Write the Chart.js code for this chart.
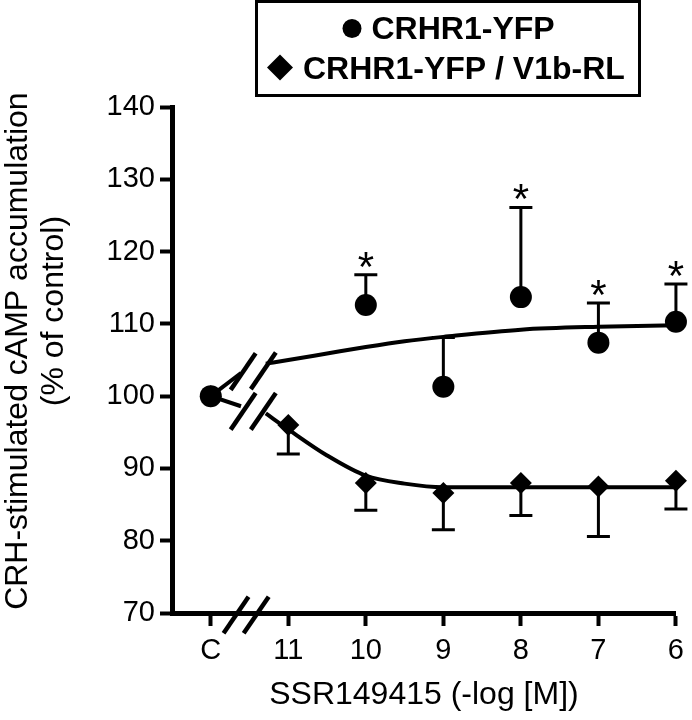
<!DOCTYPE html>
<html>
<head>
<meta charset="utf-8">
<script src="https://cdn.jsdelivr.net/npm/chart.js@4.4.1/dist/chart.umd.min.js"></script>
<style>
html,body{margin:0;padding:0;background:#ffffff;}
canvas{display:block;}
</style>
</head>
<body>
<canvas id="chart" width="692" height="720"></canvas>
<script>
// ---------- data ----------
const categories = ['C', '11', '10', '9', '8', '7', '6'];

const yfpLabel = 'CRHR1-YFP';
const yfpMean = [100, null, 112.6, 101.3, 113.7, 107.4, 110.3];
const yfpErrTop = [null, null, 116.8, 108.1, 126.1, 112.9, 115.5];
const yfpSignificant = [false, false, true, false, true, true, true];

const v1bLabel = 'CRHR1-YFP / V1b-RL';
const v1bMean = [100, 96.0, 88.0, 86.6, 88.0, 87.5, 88.3];
const v1bErrBottom = [null, 92.0, 84.2, 81.5, 83.5, 80.6, 84.4];

// fitted curves
const preBreakX = [0, 0.39];
const yfpPreBreakY = [100, 103.2];
const v1bPreBreakY = [100, 98.6];
const fitX = [0.71, 1, 1.5, 2, 2.5, 3, 4, 5, 6];
const yfpFitY = [104.5, 105.0, 105.9, 106.8, 107.6, 108.2, 109.2, 109.6, 109.8];
const v1bFitY = [97.6, 95.4, 91.8, 89.0, 87.9, 87.4, 87.4, 87.4, 87.4];

const yTicksMin = 70, yTicksMax = 140, yTickStep = 10;
const xTitle = 'SSR149415 (-log [M])';
const yTitle = ['  CRH-stimulated cAMP accumulation', '           (% of control)'];

// ---------- helpers ----------
const FONT = "'Liberation Sans', Arial, Helvetica, sans-serif";
const toPoints = (xs, ys) => xs.map((x, i) => ({ x: x, y: ys[i] }));
const indexPoints = (ys) => ys.map((y, i) => ({ x: i, y: y }));

// error bars + significance stars
const errorBarPlugin = {
  id: 'errorBars',
  afterDatasetsDraw(chart) {
    const { ctx } = chart;
    const xs = chart.scales.x, ys = chart.scales.y;
    chart.data.datasets.forEach((ds) => {
      if (!ds.errorEnds) return;
      ctx.save();
      ctx.strokeStyle = '#000';
      ctx.fillStyle = '#000';
      ctx.lineWidth = 3;
      ds.data.forEach((p, i) => {
        const e = ds.errorEnds[i];
        if (p.y == null || e == null) return;
        const px = xs.getPixelForValue(p.x);
        const py = ys.getPixelForValue(p.y);
        const pe = ys.getPixelForValue(e);
        ctx.beginPath();
        ctx.moveTo(px, py);
        ctx.lineTo(px, pe);
        ctx.moveTo(px - 11.5, pe);
        ctx.lineTo(px + 11.5, pe);
        ctx.stroke();
        if (ds.significant && ds.significant[i]) {
          ctx.font = '42px ' + FONT;
          ctx.textAlign = 'center';
          ctx.textBaseline = 'alphabetic';
          ctx.fillText('*', px, pe + 6);
        }
      });
      ctx.restore();
    });
  }
};

// axis break marks (double slashes)
const breakPlugin = {
  id: 'breakMarks',
  afterDraw(chart, args, opts) {
    const { ctx } = chart;
    const xs = chart.scales.x, ys = chart.scales.y;
    ctx.save();
    ctx.strokeStyle = '#000';
    ctx.lineWidth = 4.5;
    ctx.lineCap = 'butt';
    opts.marks.forEach((m) => {
      const cx = xs.getPixelForValue(m.x);
      const cy = m.y == null ? chart.chartArea.bottom + 2 : ys.getPixelForValue(m.y);
      ctx.beginPath();
      ctx.moveTo(cx - opts.dx, cy + opts.dy);
      ctx.lineTo(cx + opts.dx, cy - opts.dy);
      ctx.stroke();
    });
    ctx.restore();
  }
};

// boxed legend
const boxedLegendPlugin = {
  id: 'boxedLegend',
  afterDraw(chart, args, opts) {
    const { ctx } = chart;
    ctx.save();
    ctx.strokeStyle = '#000';
    ctx.lineWidth = 3;
    const b = opts.box;
    ctx.strokeRect(b.left, b.top, b.width, b.height);
    ctx.fillStyle = '#000';
    ctx.font = 'bold 32px ' + FONT;
    ctx.textAlign = 'left';
    ctx.textBaseline = 'alphabetic';
    opts.items.forEach((it) => {
      const ds = chart.data.datasets[it.datasetIndex];
      ctx.beginPath();
      Chart.helpers.drawPoint(ctx, { pointStyle: ds.pointStyle, radius: it.radius, rotation: 0, borderWidth: 0 }, it.markerX, it.markerY);
      ctx.fillText(ds.label, it.textX, it.baseline);
    });
    ctx.restore();
  }
};

const curveStyle = {
  borderColor: '#000',
  borderWidth: 4,
  pointRadius: 0,
  fill: false,
  cubicInterpolationMode: 'monotone',
  clip: false
};

const chart = new Chart(document.getElementById('chart'), {
  type: 'line',
  data: {
    datasets: [
      Object.assign({ label: 'fit1', data: toPoints(fitX, yfpFitY) }, curveStyle),
      Object.assign({ label: 'fit1pre', data: toPoints(preBreakX, yfpPreBreakY) }, curveStyle, { cubicInterpolationMode: 'default', tension: 0 }),
      Object.assign({ label: 'fit2', data: toPoints(fitX, v1bFitY) }, curveStyle),
      Object.assign({ label: 'fit2pre', data: toPoints(preBreakX, v1bPreBreakY) }, curveStyle, { cubicInterpolationMode: 'default', tension: 0 }),
      {
        label: v1bLabel,
        data: indexPoints(v1bMean),
        errorEnds: v1bErrBottom,
        showLine: false,
        pointStyle: 'rectRot',
        pointRadius: 11,
        pointBackgroundColor: '#000',
        pointBorderColor: '#000',
        pointBorderWidth: 0,
        clip: false
      },
      {
        label: yfpLabel,
        data: indexPoints(yfpMean),
        errorEnds: yfpErrTop,
        significant: yfpSignificant,
        showLine: false,
        pointStyle: 'circle',
        pointRadius: 11,
        pointBackgroundColor: '#000',
        pointBorderColor: '#000',
        pointBorderWidth: 0,
        clip: false
      }
    ]
  },
  options: {
    responsive: false,
    animation: false,
    devicePixelRatio: 1,
    events: [],
    layout: { padding: { top: 107, right: 12, left: 0, bottom: 0 } },
    plugins: {
      legend: { display: false },
      tooltip: { enabled: false },
      breakMarks: {
        dx: 12.5, dy: 18.3,
        marks: [
          { x: 0.418, y: 103.4 }, { x: 0.678, y: 103.5 },
          { x: 0.418, y: 97.9 }, { x: 0.678, y: 97.9 },
          { x: 0.326, y: null }, { x: 0.586, y: null }
        ]
      },
      boxedLegend: {
        box: { left: 256.5, top: 1.5, width: 383, height: 94 },
        items: [
          { datasetIndex: 5, radius: 9.5, markerX: 352, markerY: 28.5, textX: 371.5, baseline: 39 },
          { datasetIndex: 4, radius: 13, markerX: 280, markerY: 67.5, textX: 303, baseline: 79 }
        ]
      }
    },
    scales: {
      x: {
        type: 'linear',
        min: -0.5,
        max: categories.length - 1,
        afterBuildTicks: (s) => { s.ticks = categories.map((c, i) => ({ value: i })); },
        afterFit: (s) => { s.height = 107; },
        ticks: {
          callback: (v) => categories[Math.round(v)],
          color: '#000',
          font: { family: FONT, size: 29 },
          padding: 8,
          maxRotation: 0,
          autoSkip: false
        },
        grid: { drawOnChartArea: false, drawTicks: true, tickLength: 13, tickWidth: 4, tickColor: '#000' },
        border: { display: true, width: 5, color: '#000' },
        title: {
          display: true,
          text: xTitle,
          color: '#000',
          font: { family: FONT, size: 32, lineHeight: 1.2 },
          padding: { top: 0, bottom: 6 }
        }
      },
      y: {
        type: 'linear',
        min: yTicksMin,
        max: yTicksMax,
        afterFit: (s) => { s.width = 172; },
        ticks: {
          stepSize: yTickStep,
          color: '#000',
          font: { family: FONT, size: 29 },
          padding: 5
        },
        grid: { drawOnChartArea: false, drawTicks: true, tickLength: 12, tickWidth: 4, tickColor: '#000' },
        border: { display: true, width: 5, color: '#000' },
        title: {
          display: true,
          text: yTitle,
          color: '#000',
          font: { family: FONT, size: 32, lineHeight: 1.125 },
          padding: { top: 0, bottom: 0 }
        }
      }
    }
  },
  plugins: [errorBarPlugin, breakPlugin, boxedLegendPlugin]
});
</script>
</body>
</html>
